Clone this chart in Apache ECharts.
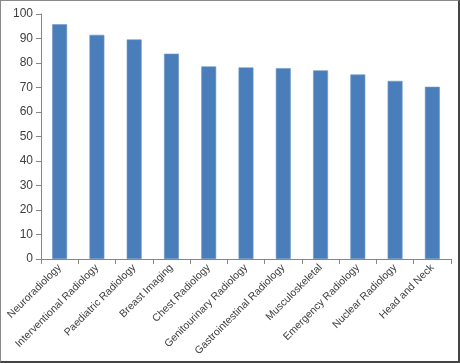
<!DOCTYPE html>
<html><head><meta charset="utf-8">
<script src="https://cdn.jsdelivr.net/npm/echarts@6/dist/echarts.min.js"></script>
<style>
html,body{margin:0;padding:0;background:#fff;}
#c{width:457px;height:360px;border-top:1px solid #8a8a8a;border-left:1px solid #8a8a8a;border-right:2px solid #444;border-bottom:2px solid #444;}
</style></head>
<body><div id="c"></div>
<script>
const categories = ["Neuroradiology","Interventional Radiology","Paediatric Radiology","Breast Imaging","Chest Radiology","Genitourinary Radiology","Gastrointestinal Radiology","Musculoskeletal","Emergency Radiology","Nuclear Radiology","Head and Neck"];
const values = [95.8, 91.5, 89.6, 83.8, 78.6, 78.2, 77.9, 77.0, 75.3, 72.7, 70.3];
const yTicks = [0,10,20,30,40,50,60,70,80,90,100];

const chart = echarts.init(document.getElementById('c'));
chart.setOption({
  animation:false,
  grid:{left:40,right:7,top:13,bottom:102,containLabel:false},
  xAxis:{type:'category',data:categories,
    axisLine:{lineStyle:{color:'#868686',width:1}},
    axisTick:{show:true,alignWithLabel:false,length:5,lineStyle:{color:'#868686'}},
    axisLabel:{rotate:45,interval:0,fontSize:10.5,color:'#404040',fontFamily:'Liberation Sans, sans-serif',margin:7}
  },
  yAxis:{type:'value',min:0,max:100,interval:10,
    axisLine:{show:true,lineStyle:{color:'#868686',width:1}},
    axisTick:{show:true,length:5,lineStyle:{color:'#868686'}},
    splitLine:{show:false},
    axisLabel:{fontSize:12,color:'#404040',fontFamily:'Liberation Sans, sans-serif',margin:8,
      formatter:v=>yTicks.includes(v)?String(v):''}
  },
  series:[{type:'bar',data:values,barWidth:'40%',
    itemStyle:{color:'#4A7EBB',borderColor:'#6F97C8',borderWidth:0.6}}]
});
</script></body></html>
